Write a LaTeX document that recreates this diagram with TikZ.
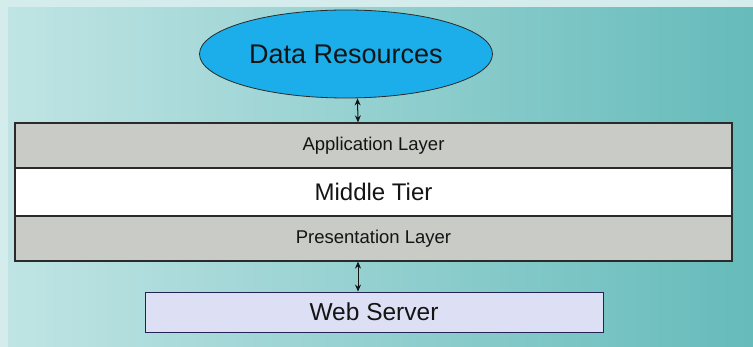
\documentclass[tikz,border=0pt]{standalone}
\usepackage{fontspec}
\setmainfont{Liberation Sans}
\usetikzlibrary{shapes.geometric,arrows.meta}

\definecolor{bgLight}{HTML}{D4ECEC}
\definecolor{bgLeft}{HTML}{C0E4E4}
\definecolor{bgMid}{HTML}{98D2D2}
\definecolor{bgRight}{HTML}{66BBBB}
\definecolor{blobBlue}{HTML}{1BAEEA}
\definecolor{layerGray}{HTML}{C9CBC7}
\definecolor{serverFill}{HTML}{DDE0F4}
\definecolor{inkDark}{HTML}{141414}
\definecolor{edgeDark}{HTML}{2A2A2A}

\tikzset{
  layerbox/.style={draw=edgeDark, line width=1.2pt, rectangle, inner sep=0pt,
    minimum width=717pt, text=inkDark},
  smalltext/.style={font=\fontsize{18.5}{20}\selectfont},
  linkarrow/.style={{Stealth[length=7pt,width=6pt]}-{Stealth[length=7pt,width=6pt]},
    line width=1pt, draw=inkDark},
}

\begin{document}
\begin{tikzpicture}[x=1pt, y=-1pt]
  \useasboundingbox (0,0) rectangle (753,347);

  % backdrop: pale frame with a cyan-to-teal wash
  \fill[bgLight] (0,0) rectangle (753,347);
  \shade[left color=bgLeft, middle color=bgMid, right color=bgRight] (8,8) rectangle (753,347);

  % data store
  \node[ellipse, draw=edgeDark, line width=0.8pt, fill=blobBlue,
        minimum width=293pt, minimum height=88pt, inner sep=0pt,
        text=inkDark, font=\fontsize{27}{30}\selectfont]
        (data) at (346,54) {Data Resources};

  % middle tier stack
  \node[layerbox, fill=layerGray, minimum height=45pt, smalltext]
        (app) at (373.5,145.5) {Application Layer};
  \node[layerbox, fill=white, minimum height=48pt,
        font=\fontsize{24}{26}\selectfont]
        (mid) at (373.5,192) {Middle Tier};
  \node[layerbox, fill=layerGray, minimum height=45pt, smalltext]
        (pres) at (373.5,238.5) {Presentation Layer};

  % web server
  \node[draw=edgeDark!80!blue, line width=0.9pt, fill=serverFill, rectangle,
        minimum width=458pt, minimum height=40pt, inner sep=0pt,
        text=inkDark, font=\fontsize{24.5}{26}\selectfont]
        (web) at (374,312) {Web Server};

  % links
  \draw[linkarrow] ([xshift=11.5pt]data.south) -- ([xshift=-15.5pt]app.north);
  \draw[linkarrow] ([xshift=-15.5pt]pres.south) -- ([xshift=-16pt]web.north);
\end{tikzpicture}
\end{document}
